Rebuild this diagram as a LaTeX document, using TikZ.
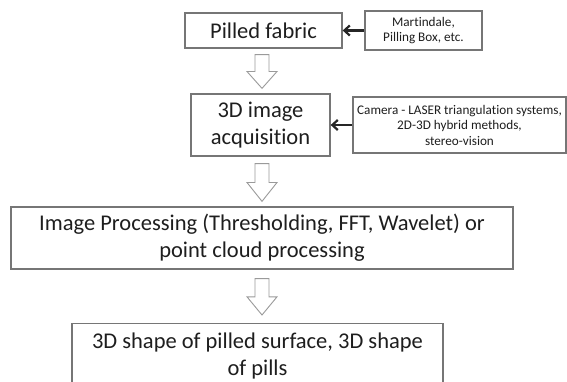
\documentclass[tikz,border=0pt]{standalone}
\usepackage{fontspec}
\setmainfont{Carlito}[RawFeature={-liga}]
\usetikzlibrary{calc,arrows.meta}

\tikzset{
  stage/.style={draw=boxgray, line width=1.3pt, fill=white, inner sep=0pt,
    align=center, text=textdark, font=\fontsize{22.5}{27}\selectfont},
  note/.style={draw=boxgray, line width=1.1pt, fill=white, inner sep=0pt,
    align=center, text=textdark, font=\fontsize{13.2}{15.5}\selectfont},
  feed/.style={draw=black!85, line width=2.2pt,
    -{Straight Barb[length=5.5pt,width=10pt,line width=2.2pt]}},
  hollow/.style={draw=arrowgray, line width=0.9pt, fill=white, line join=miter}
}
\definecolor{boxgray}{HTML}{767676}
\definecolor{arrowgray}{HTML}{9A9A9A}
\definecolor{textdark}{HTML}{1E1E1E}

% downward block arrow between two points on the same vertical line
\newcommand\blockdown[2]{%
  \draw[hollow] let \p1=(#1), \p2=(#2), \n1={\y1+0.5*(\y2-\y1)} in
    (\x1-7pt,\y1) -- (\x1+7pt,\y1) -- (\x1+7pt,\n1) -- (\x1+15pt,\n1)
    -- (\x1,\y2) -- (\x1-15pt,\n1) -- (\x1-7pt,\n1) -- cycle;}

\begin{document}
\begin{tikzpicture}[x=1pt, y=-1pt]
  \useasboundingbox (0,0) rectangle (567,381);
  \fill[white] (0,0) rectangle (567,381);

  % main stages
  \node[stage, minimum width=157pt, minimum height=35pt] (fabric) at (263.5,30.5) {Pilled fabric};
  \node[stage, minimum width=139pt, minimum height=62pt] (acq) at (260.5,125) {3D image\\acquisition};
  \node[stage, minimum width=502pt, minimum height=62pt] (proc) at (262,238) {Image Processing (Thresholding, FFT, Wavelet) or\\point cloud processing};
  \node[stage, minimum width=371pt, minimum height=64pt, anchor=north] (result) at (257.5,323) {3D shape of pilled surface, 3D shape\\of pills};

  % side notes
  \node[note, minimum width=117pt, minimum height=39pt] (martin) at (423.5,30.5) {Martindale,\\Pilling Box, etc.};
  \node[note, minimum width=213pt, minimum height=56pt] (camera) at (459.5,125) {Camera - LASER triangulation systems,\\2D-3D hybrid methods,\\stereo-vision};

  % side inputs
  \draw[feed] (martin.west) -- (fabric.east);
  \draw[feed] (camera.west) -- (acq.east);

  % flow between stages
  \coordinate (spine) at (262,0);
  \coordinate (a1) at ($(fabric.south -| spine)+(0,6)$);
  \coordinate (b1) at ($(acq.north -| spine)+(0,-5)$);
  \coordinate (a2) at ($(acq.south -| spine)+(0,7)$);
  \coordinate (b2) at ($(proc.north -| spine)+(0,-5)$);
  \coordinate (a3) at ($(proc.south -| spine)+(0,9)$);
  \coordinate (b3) at ($(result.north -| spine)+(0,-8)$);
  \blockdown{a1}{b1}
  \blockdown{a2}{b2}
  \blockdown{a3}{b3}
\end{tikzpicture}
\end{document}
